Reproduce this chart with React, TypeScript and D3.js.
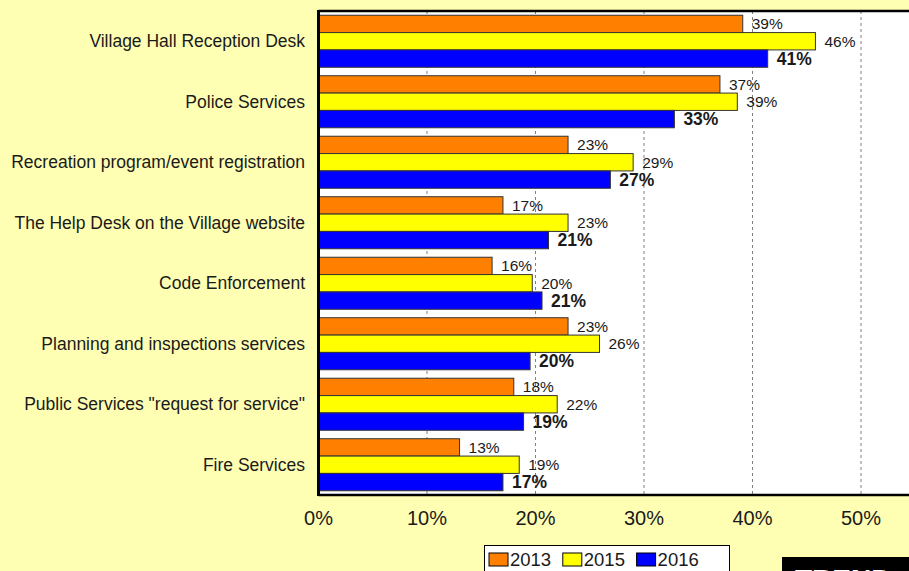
import React from "react";
import * as d3 from "d3";

const categories = [
  "Village Hall Reception Desk",
  "Police Services",
  "Recreation program/event registration",
  "The Help Desk on the Village website",
  "Code Enforcement",
  "Planning and inspections services",
  'Public Services "request for service"',
  "Fire Services",
];
const seriesNames = ["2013", "2015", "2016"];
const values2013 = [39.1, 37.0, 23.0, 17.0, 16.0, 23.0, 18.0, 13.0];
const values2015 = [45.8, 38.6, 29.0, 23.0, 19.7, 25.9, 22.0, 18.5];
const values2016 = [41.4, 32.8, 26.9, 21.2, 20.6, 19.5, 18.9, 17.0];
const seriesColors = ["#FF8000", "#FFFF00", "#0000FF"];
const xTicks = [0, 10, 20, 30, 40, 50];

const W = 909;
const H = 571;
const FONT = "'Liberation Sans', Arial, Helvetica, sans-serif";

export default function App() {
  const allValues = [values2013, values2015, values2016];
  const plotLeft = 318.5;
  const plotTop = 11;
  const plotBottom = 495;
  const x = d3.scaleLinear().domain([0, 60]).range([plotLeft, plotLeft + 651]);
  const y = d3
    .scaleBand<string>()
    .domain(categories)
    .range([plotTop, plotBottom])
    .paddingInner(0.14)
    .paddingOuter(0.07);
  const yInner = d3
    .scaleBand<string>()
    .domain(seriesNames)
    .range([0, y.bandwidth()])
    .padding(0);

  return (
    <svg
      width={W}
      height={H}
      style={{ position: "fixed", left: 0, top: 0, display: "block" }}
      fontFamily={FONT}
    >
      <rect x={0} y={0} width={W} height={H} fill="#FFFFB3" />
      {/* plot area */}
      <rect x={plotLeft} y={plotTop} width={W - plotLeft + 10} height={plotBottom - plotTop} fill="#FFFFFF" />
      {/* gridlines */}
      {xTicks.filter((t) => t > 0).map((t) => (
        <line
          key={"g" + t}
          x1={x(t)}
          x2={x(t)}
          y1={plotTop}
          y2={plotBottom}
          stroke="#808080"
          strokeWidth={1}
          strokeDasharray="3,3"
        />
      ))}
      {/* bars */}
      {categories.map((c, ci) => (
        <g key={c} transform={`translate(0,${y(c)})`}>
          {seriesNames.map((s, si) => {
            const v = allValues[si][ci];
            const by = yInner(s) as number;
            return (
              <rect
                key={s}
                x={x(0)}
                y={by}
                width={x(v) - x(0)}
                height={yInner.bandwidth()}
                fill={seriesColors[si]}
                stroke="#333333"
                strokeWidth={1}
              />
            );
          })}
          {seriesNames.map((s, si) => {
            const v = allValues[si][ci];
            const by = yInner(s) as number;
            const bold = si === 2;
            return (
              <text
                key={"l" + s}
                x={x(v) + 9}
                y={by + yInner.bandwidth() / 2}
                dominantBaseline="central"
                fontSize={bold ? 17.5 : 15.5}
                fontWeight={bold ? "bold" : "normal"}
                fill="#1a1a1a"
              >
                {Math.round(v) + "%"}
              </text>
            );
          })}
        </g>
      ))}
      {/* borders */}
      <line x1={plotLeft} x2={W} y1={plotTop} y2={plotTop} stroke="#000" strokeWidth={2.5} />
      <line x1={plotLeft} x2={W} y1={plotBottom} y2={plotBottom} stroke="#000" strokeWidth={2.5} />
      <line x1={plotLeft} x2={plotLeft} y1={plotTop - 1} y2={plotBottom + 1} stroke="#000" strokeWidth={3} />
      {/* category labels */}
      {categories.map((c) => (
        <text
          key={"c" + c}
          x={305}
          y={(y(c) as number) + y.bandwidth() / 2}
          textAnchor="end"
          dominantBaseline="central"
          fontSize={17.5}
          fill="#1a1a1a"
        >
          {c}
        </text>
      ))}
      {/* x tick labels */}
      {xTicks.map((t) => (
        <text key={"t" + t} x={x(t)} y={525} textAnchor="middle" fontSize={20} fill="#1a1a1a">
          {t + "%"}
        </text>
      ))}
      {/* legend */}
      <rect x={484.5} y={545.5} width={245} height={40} fill="#FFFFFF" stroke="#000" strokeWidth={1} />
      {seriesNames.map((s, i) => {
        const lx = 489 + i * 73.8;
        return (
          <g key={"lg" + s}>
            <rect x={lx} y={553} width={19} height={13} fill={seriesColors[i]} stroke="#000" strokeWidth={1} />
            <text x={lx + 21} y={566} fontSize={18.5} fill="#1a1a1a">
              {s}
            </text>
          </g>
        );
      })}
      {/* TREND badge */}
      <rect x={782} y={557} width={200} height={60} fill="#000" />
      <text x={795} y={589} fontSize={28} fontWeight="bold" fill="#FFFFFF">
        TREND
      </text>
    </svg>
  );
}
